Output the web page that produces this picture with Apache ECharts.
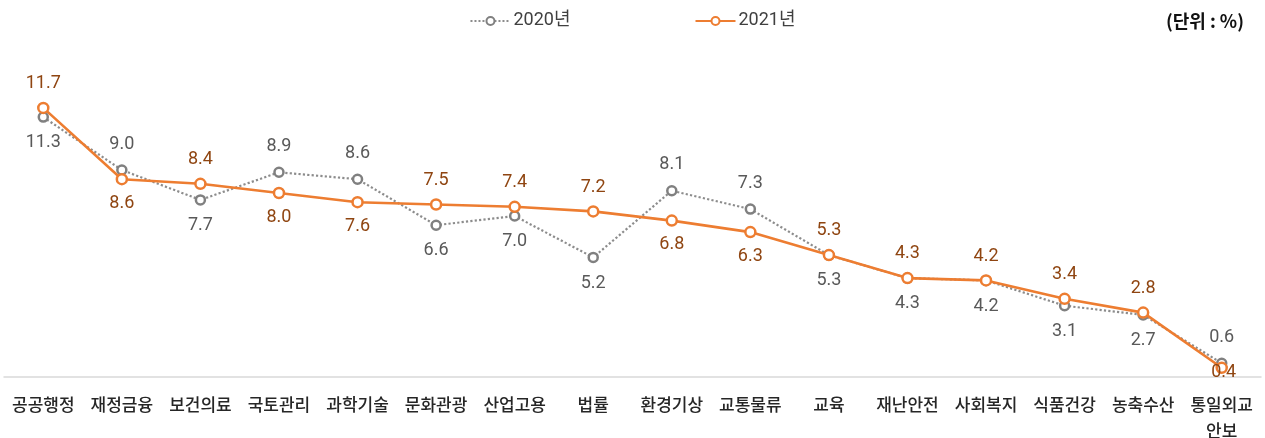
<!DOCTYPE html>
<html><head><meta charset="utf-8">
<script src="https://cdn.jsdelivr.net/npm/echarts@6/dist/echarts.min.js"></script>
<style>html,body{margin:0;padding:0;background:#fff}#c{width:1265px;height:438px}</style>
</head><body><div id="c"></div>
<script>
const categories = ['공공행정','재정금융','보건의료','국토관리','과학기술','문화관광','산업고용','법률','환경기상','교통물류','교육','재난안전','사회복지','식품건강','농축수산','통일외교안보'];
const values2020 = [11.3, 9.0, 7.7, 8.9, 8.6, 6.6, 7.0, 5.2, 8.1, 7.3, 5.3, 4.3, 4.2, 3.1, 2.7, 0.6];
const values2021 = [11.7, 8.6, 8.4, 8.0, 7.6, 7.5, 7.4, 7.2, 6.8, 6.3, 5.3, 4.3, 4.2, 3.4, 2.8, 0.4];
const place2020 = ['bottom','top','bottom','top','top','bottom','bottom','bottom','top','top','bottom','bottom','bottom','bottom','bottom','top'];
const place2021 = ['top','bottom','top','bottom','bottom','top','top','top','bottom','bottom','top','top','top','top','top','inside'];

const numFont = 'Roboto, "Noto Sans CJK KR", sans-serif';
function mk(vals, places, dist, insideOffset) {
  return vals.map((v, i) => {
    const p = places[i];
    const lab = { position: p, distance: dist };
    if (p === 'inside') { lab.offset = insideOffset; }
    return { value: v, label: lab };
  });
}

const chart = echarts.init(document.getElementById('c'));
chart.setOption({
  animation: false,
  title: {
    text: '(단위 : %)', right: 16, top: 7,
    textStyle: { fontFamily: '"Noto Sans CJK KR", sans-serif', fontSize: 18, fontWeight: 'bold', color: '#111' }
  },
  legend: {
    top: 7, left: 'center', itemGap: 124, itemWidth: 40, itemHeight: 10,
    textStyle: { fontFamily: numFont, fontSize: 18, color: '#404040', padding: [0, 0, 0, -2] },
    data: ['2020년', '2021년']
  },
  grid: { left: 4, right: 4, top: 55, bottom: 61, containLabel: false, outerBoundsMode: 'none' },
  xAxis: {
    type: 'category', data: categories, boundaryGap: true,
    axisLine: { lineStyle: { color: '#d9d9d9', width: 1.5 } },
    axisTick: { show: false },
    axisLabel: {
      interval: 0, margin: 15, width: 76, overflow: 'break', lineHeight: 26,
      fontFamily: '"Noto Sans CJK KR", sans-serif', fontSize: 17, fontWeight: 500, color: '#262626'
    }
  },
  yAxis: { type: 'value', min: 0, max: 14, show: false, splitLine: { show: false } },
  series: [
    {
      name: '2020년', type: 'line', data: mk(values2020, place2020, 11, [0, 0]),
      symbol: 'circle', symbolSize: 9,
      lineStyle: { color: '#8c8c8c', width: 2.2, type: 'dotted' },
      itemStyle: { color: '#fff', borderColor: '#808080', borderWidth: 2.5 },
      label: { show: true, formatter: p => p.value.toFixed(1), fontFamily: numFont, fontSize: 18, color: '#595959' },
      z: 2
    },
    {
      name: '2021년', type: 'line', data: mk(values2021, place2021, 9, [2, 5]),
      symbol: 'circle', symbolSize: 10,
      lineStyle: { color: '#ed7d31', width: 2.6 },
      itemStyle: { color: '#fff', borderColor: '#ed7d31', borderWidth: 2.5 },
      label: { show: true, formatter: p => p.value.toFixed(1), fontFamily: numFont, fontSize: 18, color: '#8f4511' },
      z: 3
    }
  ]
});
</script></body></html>
